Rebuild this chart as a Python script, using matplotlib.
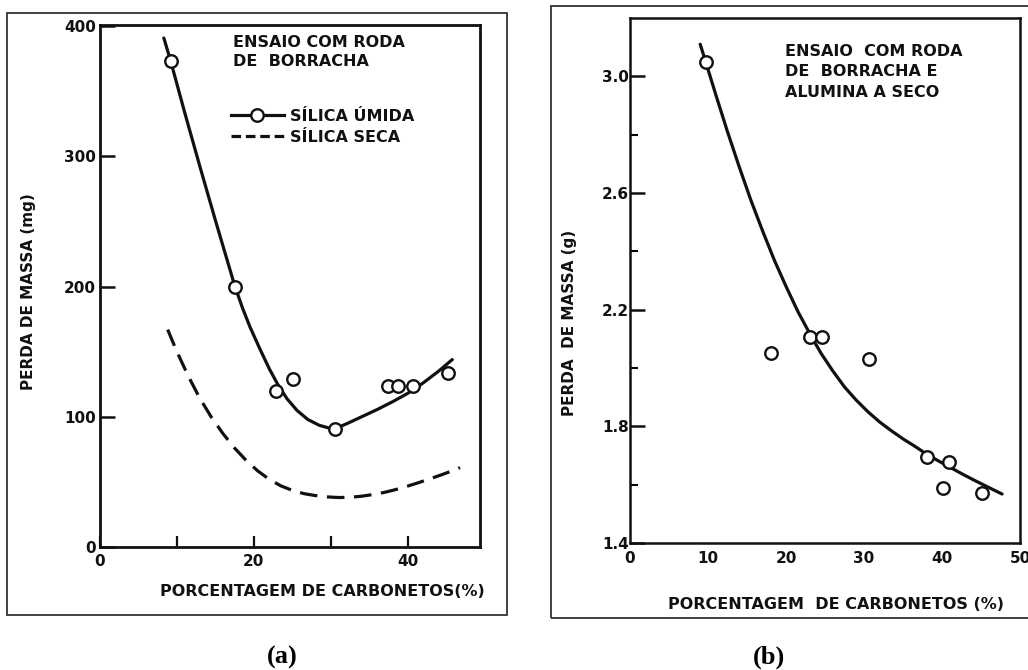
import matplotlib
matplotlib.use("Agg")
import matplotlib.pyplot as plt
from matplotlib.patches import Rectangle
from matplotlib.ticker import FixedLocator

plt.rcParams['font.family'] = ['DejaVu Sans']

# ---------------- data: panel (a) ----------------
a_pts_x = [9.2, 17.5, 22.9, 25.1, 30.6, 37.5, 38.8, 40.7, 45.2]
a_pts_y = [373, 200, 120, 129, 91, 124, 124, 124, 134]
a_wet_x = [8.3, 9.2, 11.0, 13.0, 15.0, 16.5, 17.5, 18.5, 19.5, 20.8, 22.0, 23.1, 24.3, 25.6, 27.0,
           28.5, 30.0, 30.6, 32.0, 34.0, 36.0, 38.0, 40.0, 42.0, 44.0, 45.8]
a_wet_y = [391, 373, 334, 292, 251, 221, 201, 184, 169, 152, 137, 125, 114, 105, 98,
           93.5, 91, 91, 94.5, 100, 105.5, 111.5, 118, 126, 135, 144]
a_dry_x = [8.8, 10.0, 11.5, 13.0, 14.5, 16.0, 17.5, 19.0, 20.5, 22.0, 23.5, 25.0, 26.5, 28.0,
           29.5, 31.0, 32.5, 34.0, 35.5, 37.0, 38.5, 40.0, 41.5, 43.0, 44.5, 46.0, 46.8]
a_dry_y = [167, 150, 131, 114, 99.5, 87, 76, 66.5, 58.5, 52, 47, 43.5, 41, 39.5,
           38.5, 38, 38.2, 39, 40.3, 42, 44.2, 46.8, 49.6, 52.6, 55.7, 59, 61]
a_xticks = [0, 10, 20, 30, 40]
a_xticklabels = ["0", "", "20", "", "40"]
a_yticks = [0, 100, 200, 300, 400]
a_yticklabels = ["0", "100", "200", "300", "400"]

# ---------------- data: panel (b) ----------------
b_pts_x = [9.7, 18.1, 23.1, 24.6, 30.6, 38.1, 40.9, 40.1, 45.1]
b_pts_y = [3.05, 2.05, 2.106, 2.106, 2.03, 1.695, 1.677, 1.59, 1.57]
b_fit_x = [9.0, 9.7, 11.0, 12.5, 14.0, 15.5, 17.0, 18.5, 20.0, 21.5, 23.0, 24.5, 26.0, 27.5,
           29.0, 30.5, 32.0, 33.5, 35.0, 36.5, 38.0, 39.5, 41.0, 42.5, 44.0, 45.5, 47.0, 47.7]
b_fit_y = [3.11, 3.05, 2.937, 2.81, 2.69, 2.575, 2.47, 2.37, 2.28, 2.195, 2.12, 2.05, 1.99, 1.935,
           1.89, 1.85, 1.815, 1.785, 1.757, 1.732, 1.705, 1.682, 1.66, 1.638, 1.617, 1.597, 1.577, 1.568]
b_xticks = [0, 10, 20, 30, 40, 50]
b_yticks = [1.4, 1.8, 2.2, 2.6, 3.0]
b_yminor = [1.6, 2.0, 2.4, 2.8]

INK = "#111111"
W, H = 1028, 670
fig = plt.figure(figsize=(W / 100, H / 100), dpi=100)

def fx(px):
    return px / W

def fy(py):
    return 1 - py / H

# outer frames
fig.patches.append(Rectangle((fx(7), fy(615)), fx(507 - 7), fy(13) - fy(615),
                             transform=fig.transFigure, fill=False, lw=1.3, ec="#333333"))
fig.patches.append(Rectangle((fx(551), fy(618)), fx(1040 - 551), fy(6) - fy(618),
                             transform=fig.transFigure, fill=False, lw=1.3, ec="#333333"))

FS = 11

# ---------------- panel (a) ----------------
axA = fig.add_axes([fx(100), fy(547), fx(480 - 100), fy(25) - fy(547)])
axA.set_xlim(0, 49.4)
axA.set_ylim(0, 401)
axA.plot(a_wet_x, a_wet_y, color=INK, lw=2.3, solid_capstyle='round', solid_joinstyle='round', zorder=2)
axA.plot(a_dry_x, a_dry_y, color=INK, lw=2.3, dashes=(5.5, 3), zorder=2)
axA.plot(a_pts_x, a_pts_y, ls='none', marker='o', ms=9, mfc='white', mec=INK, mew=1.7, zorder=3)
axA.set_xticks(a_xticks)
axA.set_xticklabels(a_xticklabels)
axA.set_yticks(a_yticks)
axA.set_yticklabels(a_yticklabels)
axA.tick_params(axis='x', direction='in', length=8, width=1.6, pad=5, labelsize=FS, colors=INK)
axA.tick_params(axis='y', direction='in', length=11, width=1.8, pad=3, labelsize=FS, colors=INK)
for lab in axA.get_xticklabels() + axA.get_yticklabels():
    lab.set_fontweight('bold')
for s in axA.spines.values():
    s.set_linewidth(2.0)
    s.set_color(INK)
axA.set_xlabel("PORCENTAGEM DE CARBONETOS(%)", fontsize=11.5, fontweight='bold', color=INK)
axA.xaxis.set_label_coords((322 - 100) / 380, (547 - 584) / 522)
axA.set_ylabel("PERDA DE MASSA (mg)", fontsize=11, fontweight='bold', color=INK)
axA.yaxis.set_label_coords((36 - 100) / 380, (547 - 292) / 522)
axA.text((233 - 100) / 380, (547 - 35) / 522, "ENSAIO COM RODA\nDE  BORRACHA", transform=axA.transAxes,
         ha='left', va='top', fontsize=11.5, fontweight='bold', color=INK, linespacing=1.3)
hw, = axA.plot([], [], color=INK, lw=2.3, marker='o', ms=9, mfc='white', mec=INK, mew=1.7, label="SÍLICA ÚMIDA")
hd, = axA.plot([], [], color=INK, lw=2.3, dashes=(3, 1.5), label="SÍLICA SECA")
leg = axA.legend(handles=[hw, hd], loc='upper left', bbox_to_anchor=((231 - 100) / 380, (547 - 109) / 522),
                 frameon=False, borderpad=0, borderaxespad=0, handlelength=3.3, handletextpad=0.4,
                 labelspacing=0.35, prop={'size': 11.5, 'weight': 'bold'})
for t in leg.get_texts():
    t.set_color(INK)

# ---------------- panel (b) ----------------
axB = fig.add_axes([fx(630), fy(543), fx(1020 - 630), fy(18) - fy(543)])
axB.set_xlim(0, 50)
axB.set_ylim(1.4, 3.2)
axB.plot(b_fit_x, b_fit_y, color=INK, lw=2.3, solid_capstyle='round', solid_joinstyle='round', zorder=2)
axB.plot(b_pts_x, b_pts_y, ls='none', marker='o', ms=9, mfc='white', mec=INK, mew=1.7, zorder=3)
axB.set_xticks(b_xticks)
axB.set_xticklabels([str(v) for v in b_xticks])
axB.set_yticks(b_yticks)
axB.set_yticklabels([f"{v:.1f}" for v in b_yticks])
axB.yaxis.set_minor_locator(FixedLocator(b_yminor))
axB.tick_params(axis='x', length=0, pad=6, labelsize=FS, colors=INK)
axB.tick_params(axis='y', which='major', direction='in', length=11, width=1.8, pad=1, labelsize=FS, colors=INK)
axB.tick_params(axis='y', which='minor', direction='in', length=6, width=1.5)
for lab in axB.get_xticklabels() + axB.get_yticklabels():
    lab.set_fontweight('bold')
for s in axB.spines.values():
    s.set_linewidth(1.8)
    s.set_color(INK)
axB.set_xlabel("PORCENTAGEM  DE CARBONETOS (%)", fontsize=11.5, fontweight='bold', color=INK)
axB.xaxis.set_label_coords((836 - 630) / 390, (543 - 597) / 525)
axB.set_ylabel("PERDA  DE MASSA (g)", fontsize=11, fontweight='bold', color=INK)
axB.yaxis.set_label_coords((577 - 630) / 390, (543 - 323) / 525)
axB.text((785 - 630) / 390, (543 - 44) / 525, "ENSAIO  COM RODA\nDE  BORRACHA E\nALUMINA A SECO",
         transform=axB.transAxes, ha='left', va='top', fontsize=11.5, fontweight='bold', color=INK,
         linespacing=1.45)

# panel captions
fig.text(fx(282), fy(657), "(a)", ha='center', va='center', fontsize=19, fontweight='bold',
         family='Liberation Serif', color='black')
fig.text(fx(769), fy(657), "(b)", ha='center', va='center', fontsize=19, fontweight='bold',
         family='Liberation Serif', color='black')

fig.savefig("out.png", dpi=100)
